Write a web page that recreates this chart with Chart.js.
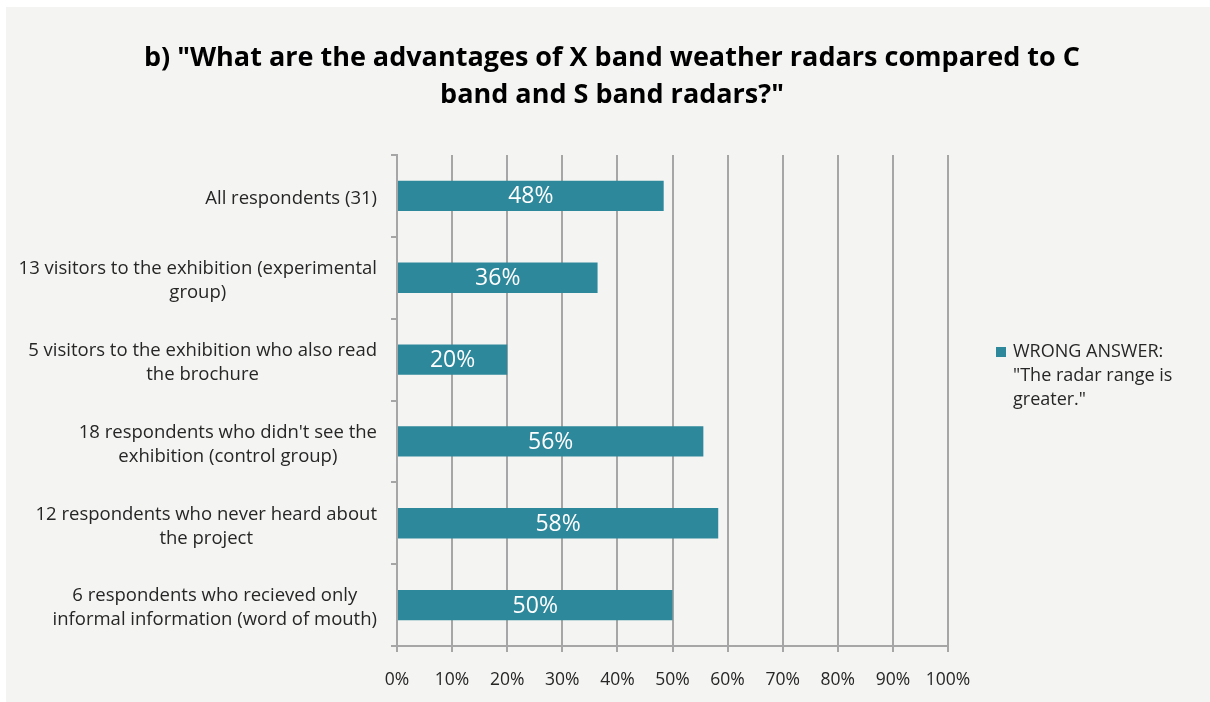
<!DOCTYPE html>
<html>
<head>
<meta charset="utf-8">
<script src="https://cdn.jsdelivr.net/npm/chart.js@4.4.1/dist/chart.umd.min.js"></script>
<style>
  html, body { margin: 0; padding: 0; background: #ffffff; }
  #wrap { position: absolute; left: 6px; top: 7px; width: 1204px; height: 695px; background: #f4f4f2; }
</style>
</head>
<body>
<div id="wrap"><canvas id="chart" width="1204" height="695"></canvas></div>
<script>
// chart data
const categories = [
  ["All respondents (31)"],
  ["13 visitors to the exhibition (experimental", "group)"],
  ["5 visitors to the exhibition who also read", "the brochure"],
  ["18 respondents who didn't see the", "exhibition (control group)"],
  ["12 respondents who never heard about", "the project"],
  ["6 respondents who recieved only", "informal information (word of mouth)"]
];
const wrongAnswer = [48.4, 36.4, 20, 55.6, 58.3, 50];
const valueLabels = ["48%", "36%", "20%", "56%", "58%", "50%"];
const titleLines = ['b) "What are the advantages of X band weather radars compared to C', 'band and S band radars?"'];
const legendLines = ["WRONG ANSWER:", '"The radar range is', 'greater."'];

const barColor = "#2e889b";
const textColor = "#262626";
const textFont = "'Open Sans', sans-serif";

// draws the category labels, title, legend and the value labels
const extras = {
  id: "extras",
  afterDatasetsDraw(chart) {
    const ctx = chart.ctx;
    const meta = chart.getDatasetMeta(0);
    ctx.save();
    ctx.fillStyle = "#ffffff";
    ctx.font = "23px " + textFont;
    ctx.textAlign = "center";
    ctx.textBaseline = "middle";
    meta.data.forEach(function(bar, i) {
      ctx.fillText(valueLabels[i], (bar.x + bar.base) / 2, bar.y + 1);
    });
    ctx.restore();
  },
  afterDraw(chart) {
    const ctx = chart.ctx;
    const yScale = chart.scales.y;
    ctx.save();
    // category labels: block right aligned, lines centred in the block
    ctx.fillStyle = textColor;
    ctx.font = "18.5px " + textFont;
    ctx.textAlign = "center";
    ctx.textBaseline = "middle";
    categories.forEach(function(lines, i) {
      const w = Math.max.apply(null, lines.map(function(l) { return ctx.measureText(l).width; }));
      const cx = 371 - w / 2;
      const cy = yScale.getPixelForTick(i) + 3;
      lines.forEach(function(line, j) {
        ctx.fillText(line, cx, cy + (j - (lines.length - 1) / 2) * 24);
      });
    });
    // title
    ctx.fillStyle = "#000000";
    ctx.font = "bold 27px " + textFont;
    ctx.fillText(titleLines[0], 606, 51);
    ctx.fillText(titleLines[1], 606, 88);
    // legend
    ctx.fillStyle = barColor;
    ctx.fillRect(990, 340, 10, 10);
    ctx.fillStyle = textColor;
    ctx.font = "18px " + textFont;
    ctx.textAlign = "left";
    legendLines.forEach(function(line, i) {
      ctx.fillText(line, 1007, 345 + i * 24);
    });
    ctx.restore();
  }
};

const ctx = document.getElementById("chart").getContext("2d");
const chart = new Chart(ctx, {
  type: "bar",
  data: {
    labels: categories,
    datasets: [{
      label: legendLines.join(" "),
      data: wrongAnswer,
      backgroundColor: barColor,
      borderWidth: 0,
      barPercentage: 0.37,
      categoryPercentage: 1
    }]
  },
  options: {
    indexAxis: "y",
    responsive: false,
    animation: false,
    layout: { padding: { top: 148, right: 262, left: 0, bottom: 0 } },
    plugins: {
      legend: { display: false },
      title: { display: false },
      tooltip: { enabled: false }
    },
    scales: {
      x: {
        min: 0,
        max: 100,
        ticks: {
          stepSize: 10,
          color: textColor,
          font: { family: textFont, size: 17.5 },
          padding: 18,
          callback: function(v) { return v + "%"; }
        },
        grid: { color: "#a6a6a6", lineWidth: 2, tickLength: 6 },
        border: { color: "#a6a6a6", width: 2 },
        afterFit: function(scale) { scale.height = 56; }
      },
      y: {
        ticks: { display: false },
        grid: { drawOnChartArea: false, color: "#a6a6a6", lineWidth: 2, tickLength: 6 },
        border: { color: "#a6a6a6", width: 2 },
        afterFit: function(scale) { scale.width = 391; }
      }
    }
  },
  plugins: [extras]
});
</script>
</body>
</html>
